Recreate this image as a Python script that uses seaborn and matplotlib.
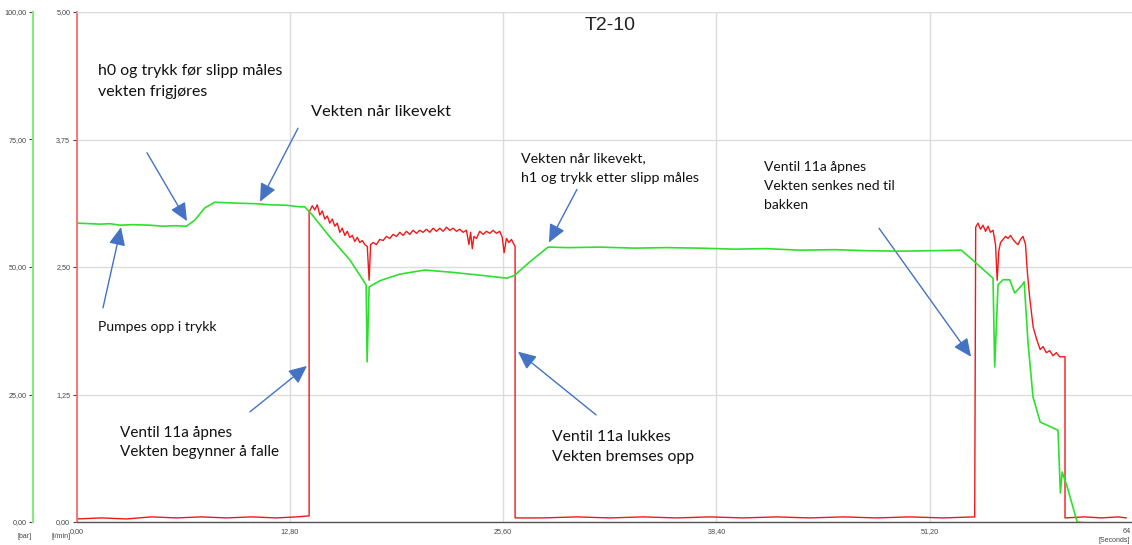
import matplotlib
matplotlib.use("Agg")
import matplotlib.pyplot as plt
import matplotlib.transforms as mtransforms
import seaborn as sns

# ---- chart text and axes labels ----
TITLE = "T2-10"
time_ticks = [0.0, 12.8, 25.6, 38.4, 51.2, 64.0]
time_tick_labels = ["0,00", "12,80", "25,60", "38,40", "51,20", "64"]
flow_ticks = [0.0, 1.25, 2.5, 3.75, 5.0]
flow_tick_labels = ["0,00", "1,25", "2,50", "3,75", "5,00"]
pressure_ticks = [0, 25, 50, 75, 100]
pressure_tick_labels = ["0,00", "25,00", "50,00", "75,00", "100,00"]

# ---- pressure [bar] over time [s] ----
pressure_t = [0.0, 0.8, 1.4, 2.0, 2.6, 3.4, 4.4, 5.2, 5.9, 6.6, 7.1, 7.7, 8.3,
              9.0, 9.8, 10.8, 11.6, 12.6, 13.4, 13.7, 14.1, 15.2, 16.4, 17.38,
              17.44, 17.56, 18.2, 19.4, 20.9, 22.4, 24.2, 25.84, 26.3, 27.2,
              28.3, 29.5, 31.4, 33.5, 35.4, 37.4, 39.5, 41.4, 43.4, 45.5, 47.4,
              49.4, 51.3, 53.1, 53.9, 55.0, 55.1, 55.3, 55.6, 56.0, 56.3, 56.75,
              56.87, 57.1, 57.4, 57.83, 58.9, 59.04, 59.15, 59.45, 60.05, 60.95]
pressure_bar = [58.6, 58.5, 58.4, 58.5, 58.2, 58.3, 58.2, 58.0, 58.1, 58.0, 59.2,
                61.6, 62.7, 62.6, 62.5, 62.4, 62.2, 62.1, 61.8, 61.8, 60.4, 55.9,
                51.4, 46.5, 31.4, 46.1, 47.3, 48.6, 49.4, 49.0, 48.4, 47.8, 48.4,
                51.0, 53.9, 53.8, 53.9, 53.7, 53.8, 53.7, 53.5, 53.6, 53.3, 53.4,
                53.2, 53.1, 53.2, 53.3, 51.0, 47.8, 30.4, 46.5, 47.5, 47.5, 44.9,
                46.5, 47.1, 35.1, 24.5, 19.6, 18.0, 5.7, 9.8, 6.9, 0.0, -0.3]

# ---- flow [l/min] over time [s] ----
flow_t = [0.0, 1.5, 3.0, 4.5, 6.0, 7.5, 9.0, 10.5, 12.0, 13.2, 13.96,
          # valve 11a open: falling phase
          13.96, 14.15, 14.3, 14.45, 14.6, 14.75, 14.9, 15.05, 15.2, 15.35,
          15.5, 15.65, 15.8, 15.95, 16.1, 16.25, 16.4, 16.55, 16.7, 16.85,
          17.0, 17.15, 17.3, 17.45, 17.56, 17.65, 17.8, 18.0, 18.2, 18.4,
          18.6, 18.8, 19.0, 19.2, 19.4, 19.6, 19.8, 20.0, 20.2, 20.4, 20.6,
          20.8, 21.0, 21.2, 21.4, 21.6, 21.8, 22.0, 22.2, 22.4, 22.6, 22.8,
          23.0, 23.2, 23.4, 23.55, 23.65, 23.75, 23.85, 24.0, 24.2, 24.4,
          24.6, 24.8, 25.0, 25.2, 25.4, 25.55, 25.66, 25.8, 25.95, 26.1, 26.32,
          # valve closed
          26.32, 28.0, 30.0, 32.0, 34.0, 36.0, 38.0, 40.0, 42.0, 44.0, 46.0,
          48.0, 50.0, 52.0, 53.9,
          # valve 11a open: lowering to the ground
          53.96, 54.1, 54.25, 54.4, 54.55, 54.7, 54.85, 55.0, 55.15, 55.25,
          55.35, 55.45, 55.6, 55.75, 55.9, 56.05, 56.2, 56.35, 56.5, 56.65,
          56.8, 56.95, 57.05, 57.2, 57.41, 57.6, 57.83, 58.0, 58.2, 58.4,
          58.6, 58.8, 59.0, 59.32,
          59.32, 60.5, 61.5, 62.5, 63.0]
flow_lpm = [0.03, 0.04, 0.03, 0.05, 0.04, 0.05, 0.04, 0.05, 0.04, 0.05, 0.06,
            3.04, 3.10, 3.06, 3.11, 3.01, 3.05, 2.97, 3.00, 2.93, 2.97,
            2.90, 2.93, 2.84, 2.88, 2.81, 2.85, 2.79, 2.81, 2.75, 2.79,
            2.74, 2.76, 2.72, 2.70, 2.37, 2.72, 2.74, 2.72, 2.77, 2.76,
            2.80, 2.78, 2.82, 2.80, 2.84, 2.81, 2.85, 2.82, 2.86, 2.83, 2.86,
            2.84, 2.87, 2.84, 2.88, 2.85, 2.88, 2.85, 2.89, 2.86, 2.88, 2.85,
            2.87, 2.84, 2.86, 2.72, 2.84, 2.68, 2.80, 2.78, 2.85, 2.82,
            2.85, 2.83, 2.86, 2.83, 2.85, 2.79, 2.64, 2.78, 2.74, 2.77, 2.70,
            0.04, 0.04, 0.05, 0.04, 0.05, 0.04, 0.05, 0.04, 0.05, 0.04, 0.05,
            0.04, 0.05, 0.04, 0.05,
            2.89, 2.93, 2.87, 2.91, 2.85, 2.90, 2.84, 2.86, 2.72, 2.37,
            2.66, 2.74, 2.77, 2.80, 2.78, 2.81, 2.77, 2.74, 2.72, 2.77,
            2.80, 2.72, 2.47, 2.20, 1.91, 1.80, 1.69, 1.72, 1.66, 1.68,
            1.63, 1.66, 1.62, 1.62,
            0.04, 0.05, 0.04, 0.05, 0.04]

# ---- notes drawn on the chart: text, (time, flow-scale y), size, line spacing ----
notes = [
    ("h0 og trykk før slipp måles\nvekten frigjøres", (1.29, 4.32), 11.4, 1.62),
    ("Vekten når likevekt", (14.07, 4.02), 11.8, 1.4),
    ("Vekten når likevekt,\nh1 og trykk etter slipp måles", (26.67, 3.47), 10.3, 1.8),
    ("Ventil 11a åpnes\nVekten senkes ned til\nbakken", (41.26, 3.29), 10.0, 1.7),
    ("Pumpes opp i trykk", (1.29, 1.91), 10.1, 1.4),
    ("Ventil 11a åpnes\nVekten begynner å falle", (2.61, 0.78), 11.0, 1.5),
    ("Ventil 11a lukkes\nVekten bremses opp", (28.53, 0.735), 11.3, 1.5),
]
pointers = [
    ((4.23, 3.62), (6.63, 2.95)),
    ((13.29, 3.86), (11.01, 3.14)),
    ((30.03, 3.26), (28.35, 2.74)),
    ((48.16, 2.88), (53.68, 1.62)),
    ((1.59, 2.10), (2.67, 2.89)),
    ((10.41, 1.08), (13.83, 1.53)),
    ((31.18, 1.05), (26.49, 1.67)),
]

sns.set_style("white")
plt.rcParams["font.family"] = ["Liberation Sans", "DejaVu Sans"]

W, H = 1132, 545
fig = plt.figure(figsize=(W / 100, H / 100), dpi=100)
left_px, right_px, top_px, bottom_px = 76.5, 1143.0, 12.0, 522.0
ax = fig.add_axes([left_px / W, (H - bottom_px) / H,
                   (right_px - left_px) / W, (bottom_px - top_px) / H])
ax2 = ax.twinx()

RED = "#F01818"
GREEN = "#2EE02E"
GRID = "#DCDCDC"
TICK = "#444444"
BLUE = "#4472C4"

sns.lineplot(x=flow_t, y=flow_lpm, ax=ax, color=RED, lw=1.0,
             estimator=None, sort=False)
sns.lineplot(x=pressure_t, y=pressure_bar, ax=ax2, color=GREEN, lw=1.2,
             estimator=None, sort=False)

# time axis
ax.set_xlim(0, 64)
ax.set_xticks(time_ticks)
ax.set_xticklabels(time_tick_labels)

# flow axis (inner, red)
ax.set_ylim(0, 5)
ax.set_yticks(flow_ticks)
ax.set_yticklabels(flow_tick_labels)

# pressure axis (outer, green)
ax2.set_ylim(0, 100)
ax2.yaxis.set_ticks_position("left")
ax2.spines["left"].set_visible(True)
ax2.spines["left"].set_position(("outward", 43.5 * 72 / 100))
ax2.set_yticks(pressure_ticks)
ax2.set_yticklabels(pressure_tick_labels)
for s in ("right", "top", "bottom"):
    ax2.spines[s].set_visible(False)

ax.grid(True, color=GRID, lw=1.0)
ax.set_axisbelow(True)
ax.spines["left"].set_color("#F07070")
ax.spines["left"].set_linewidth(1.3)
ax2.spines["left"].set_color("#8CE68C")
ax2.spines["left"].set_linewidth(1.6)
ax.spines["top"].set_color(GRID)
ax.spines["right"].set_visible(False)
ax.spines["bottom"].set_color("#555555")
ax.spines["bottom"].set_linewidth(1.0)

for a in (ax, ax2):
    a.tick_params(axis="both", labelsize=5.2, labelcolor=TICK, color=TICK,
                  length=3, width=0.8, pad=1.5, direction="out")
    a.set_xlabel("")
    a.set_ylabel("")

# the last time label sits at the right edge of the figure: pull it inside
last = ax.get_xticklabels()[-1]
last.set_horizontalalignment("right")
last.set_transform(last.get_transform() +
                   mtransforms.ScaledTranslation(-12 / 100, 0, fig.dpi_scale_trans))

fig.text(17 / W, 1 - 537 / H, "[bar]", fontsize=5, color=TICK, va="center")
fig.text(51 / W, 1 - 537 / H, "[l/min]", fontsize=5, color=TICK, va="center")
fig.text(1130 / W, 1 - 541 / H, "[Seconds]", fontsize=5, color=TICK,
         ha="right", va="center")

ax.text(32.0, 4.87, TITLE, fontsize=14, ha="center", va="center", color="#222222")

for txt, (x, y), size, spacing in notes:
    ax.text(x, y, txt, fontsize=size, family=["Lato", "DejaVu Sans"],
            ha="left", va="center", linespacing=spacing, color="#111111")

for (x0, y0), (x1, y1) in pointers:
    ax.annotate("", xy=(x1, y1), xytext=(x0, y0),
                arrowprops=dict(arrowstyle="-|>,head_length=1.1,head_width=0.5",
                                mutation_scale=10, color=BLUE, lw=1.0,
                                shrinkA=0, shrinkB=0))

fig.savefig("out.png", dpi=100)
